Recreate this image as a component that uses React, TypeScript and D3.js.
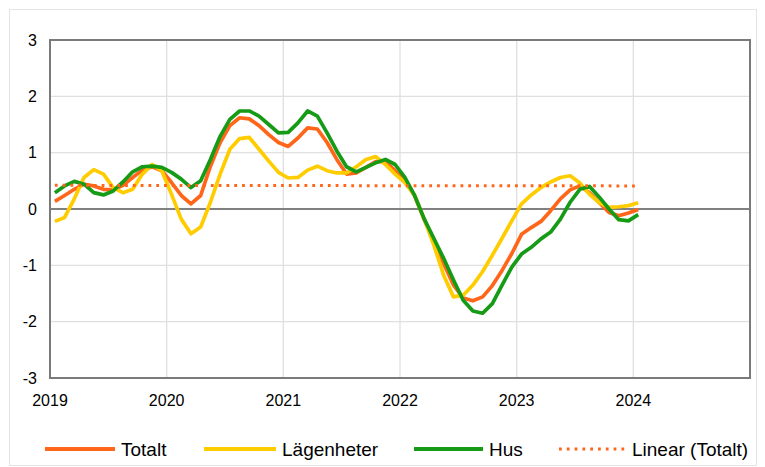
import React from "react";
import * as d3 from "d3";

const years = ["2019", "2020", "2021", "2022", "2023", "2024"];
const yTicks = [-3, -2, -1, 0, 1, 2, 3];

const totalt = [
  0.135, 0.24, 0.35, 0.44, 0.41, 0.35, 0.34, 0.42, 0.56, 0.69, 0.75, 0.68,
  0.47, 0.24, 0.09, 0.24, 0.76, 1.18, 1.48, 1.62, 1.6, 1.48, 1.32, 1.18,
  1.11, 1.26, 1.44, 1.42, 1.18, 0.88, 0.62, 0.64, 0.74, 0.84, 0.84, 0.68,
  0.5, 0.24, -0.19, -0.59, -0.97, -1.35, -1.58, -1.63, -1.56, -1.36, -1.09, -0.79,
  -0.45, -0.33, -0.22, -0.03, 0.18, 0.34, 0.41, 0.29, 0.11, -0.06, -0.12, -0.07,
  -0.01,
];

const lagenheter = [
  -0.22, -0.15, 0.18, 0.56, 0.7, 0.62, 0.38, 0.29, 0.35, 0.62, 0.79, 0.68,
  0.26, -0.18, -0.44, -0.32, 0.12, 0.62, 1.06, 1.25, 1.27, 1.06, 0.85, 0.65,
  0.55, 0.56, 0.69, 0.76, 0.68, 0.64, 0.64, 0.75, 0.88, 0.93, 0.79, 0.62,
  0.47, 0.24, -0.18, -0.65, -1.18, -1.56, -1.53, -1.35, -1.11, -0.82, -0.52, -0.21,
  0.09, 0.25, 0.38, 0.48, 0.56, 0.59, 0.46, 0.26, 0.11, 0.03, 0.04, 0.06,
  0.11,
];

const hus = [
  0.29, 0.41, 0.49, 0.44, 0.29, 0.25, 0.32, 0.48, 0.66, 0.75, 0.76, 0.74,
  0.65, 0.53, 0.38, 0.5, 0.88, 1.29, 1.59, 1.74, 1.74, 1.65, 1.5, 1.35,
  1.36, 1.53, 1.74, 1.65, 1.35, 1.03, 0.75, 0.66, 0.74, 0.82, 0.88, 0.79,
  0.56, 0.24, -0.18, -0.53, -0.88, -1.26, -1.62, -1.81, -1.85, -1.68, -1.35, -1.03,
  -0.8, -0.68, -0.53, -0.41, -0.18, 0.12, 0.35, 0.4, 0.21, 0.0, -0.19, -0.21,
  -0.1,
];

// linear trend of Totalt, start and end values
const trendTotalt = [0.42, 0.41];

const seriesNames = ["Totalt", "Lägenheter", "Hus", "Linear (Totalt)"];
const colors = ["#FF661A", "#FFCC00", "#169B16", "#FF661A"];

const W = 765;
const H = 467;
const L = 50, R = 750, T = 40, B = 378;
const FONT = "'Liberation Sans', Arial, sans-serif";

export default function App() {
  const x = d3.scaleLinear().domain([0, 72]).range([L, R]);
  const y = d3.scaleLinear().domain([-3, 3]).range([B, T]);
  const px = (i: number) => x(i + 0.5);

  const line = d3
    .line<number>()
    .x((_, i) => px(i))
    .y((d) => y(d));

  const trendLine = d3
    .line<number>()
    .x((_, i) => px(i === 0 ? 0 : totalt.length - 1))
    .y((d) => y(d));

  const data = [totalt, lagenheter, hus];

  const legendX = [45, 204, 414, 559];
  const legendLen = [70, 72, 69, 67];
  const legendY = 449;

  return (
    <svg
      width={W}
      height={H}
      style={{ position: "absolute", left: 0, top: 0, background: "#fff" }}
    >
      <rect x={9.5} y={9.5} width={747} height={456} fill="#fff" stroke="#e4e4e4" />
      {yTicks.map((t) => (
        <line key={"h" + t} x1={L} x2={R} y1={y(t)} y2={y(t)} stroke="#e0e0e0" strokeWidth={1.3} />
      ))}
      {years.map((yr, k) => (
        <line key={"v" + yr} x1={x(k * 12)} x2={x(k * 12)} y1={T} y2={B} stroke="#e0e0e0" strokeWidth={1.3} />
      ))}
      <line x1={L} x2={R} y1={y(0)} y2={y(0)} stroke="#808080" strokeWidth={2} />
      <rect x={L} y={T} width={R - L} height={B - T} fill="none" stroke="#7a7a7a" strokeWidth={2} />

      {yTicks.map((t) => (
        <text key={"yt" + t} x={37} y={y(t)} dy="0.35em" textAnchor="end" fontFamily={FONT} fontSize={16} fill="#000">
          {t}
        </text>
      ))}
      {years.map((yr, k) => (
        <text key={"xt" + yr} x={x(k * 12)} y={406} textAnchor="middle" fontFamily={FONT} fontSize={16} fill="#000">
          {yr}
        </text>
      ))}

      {data.map((d, s) => (
        <path key={"s" + s} d={line(d) || ""} fill="none" stroke={colors[s]} strokeWidth={3.7} strokeLinejoin="round" />
      ))}
      <path d={trendLine(trendTotalt) || ""} fill="none" stroke={colors[3]} strokeWidth={3} strokeDasharray="2.8 5" />

      {seriesNames.map((n, s) => (
        <g key={"lg" + s}>
          <line
            x1={legendX[s]}
            x2={legendX[s] + legendLen[s]}
            y1={legendY}
            y2={legendY}
            stroke={colors[s]}
            strokeWidth={s === 3 ? 3 : 4}
            strokeDasharray={s === 3 ? "2.8 5" : undefined}
          />
          <text x={legendX[s] + legendLen[s] + 6} y={legendY} dy="0.35em" fontFamily={FONT} fontSize={19} fill="#000">
            {n}
          </text>
        </g>
      ))}
    </svg>
  );
}
